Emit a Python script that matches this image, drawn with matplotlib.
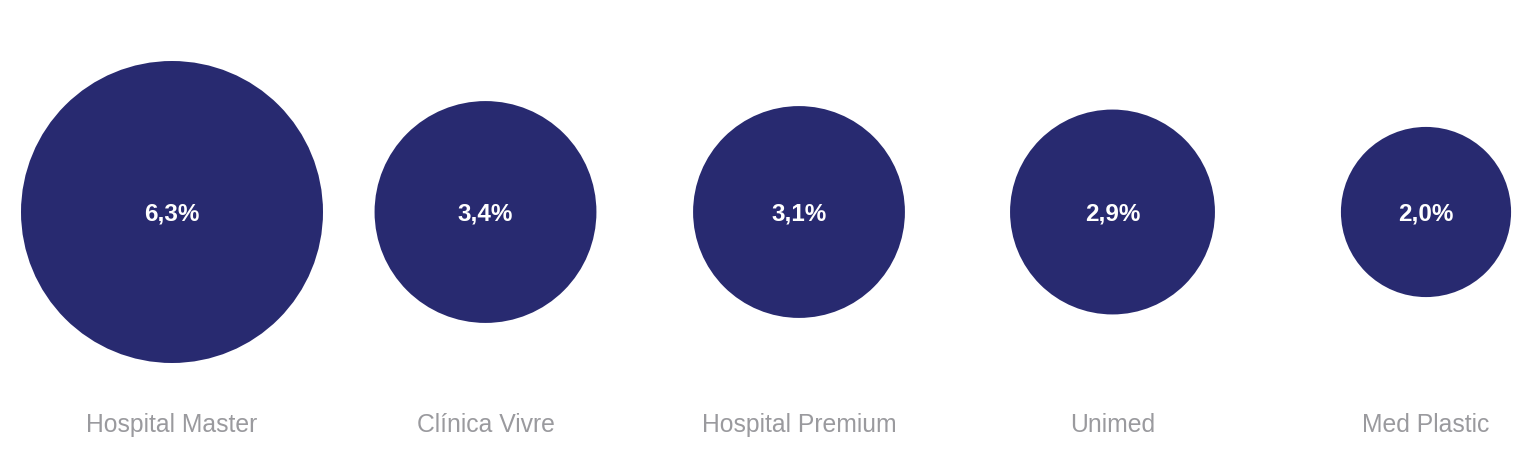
import matplotlib.pyplot as plt
from matplotlib.patches import Circle
import numpy as np

# dados do gráfico
empresas = ["Hospital Master", "Clínica Vivre", "Hospital Premium", "Unimed", "Med Plastic"]
valores = [6.3, 3.4, 3.1, 2.9, 2.0]
rotulos = ["6,3%", "3,4%", "3,1%", "2,9%", "2,0%"]

plt.rcParams['font.family'] = ['Liberation Sans', 'DejaVu Sans']

W, H = 1528, 455
fig = plt.figure(figsize=(W / 100, H / 100), dpi=100)
ax = fig.add_axes([0, 0, 1, 1])
ax.set_xlim(0, W)
ax.set_ylim(H, 0)
ax.set_aspect('equal')
ax.axis('off')

cor = '#282a70'
x0, passo, y_centro, y_rotulo = 172, 313.5, 212, 425
escala = 151 / np.sqrt(max(valores))  # raio proporcional à área

for i, (nome, v, txt) in enumerate(zip(empresas, valores, rotulos)):
    x = x0 + i * passo
    r = escala * np.sqrt(v)
    ax.add_patch(Circle((x, y_centro), r, facecolor=cor, edgecolor='none'))
    ax.text(x, y_centro + 2, txt, ha='center', va='center', color='white',
            fontsize=17.5, fontweight='bold')
    ax.text(x, y_rotulo, nome, ha='center', va='center', color='#9a9a9e',
            fontsize=17.8)

fig.savefig('out.png', dpi=100)
